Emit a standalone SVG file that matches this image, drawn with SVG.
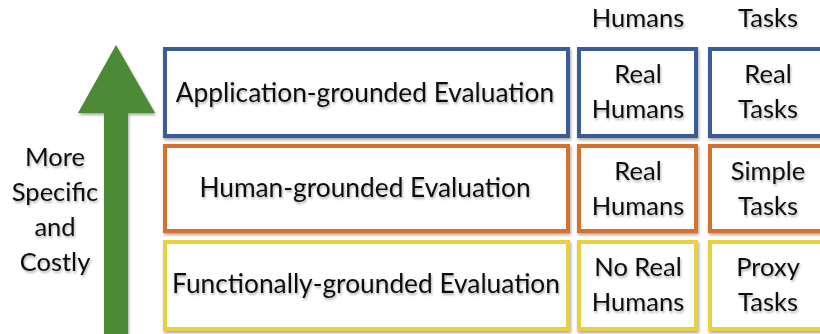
<svg xmlns="http://www.w3.org/2000/svg" width="820" height="334" viewBox="0 0 820 334">
<defs>
<filter id="sh" x="-10%" y="-10%" width="120%" height="130%">
<feDropShadow dx="1" dy="2" stdDeviation="1.5" flood-color="#000" flood-opacity="0.35"/>
</filter>
<filter id="tsh" x="-5%" y="-20%" width="110%" height="150%">
<feDropShadow dx="1" dy="2" stdDeviation="1.2" flood-color="#000" flood-opacity="0.3"/>
</filter>
</defs>
<style>
.box{fill:#fff;stroke-width:4;filter:url(#sh)}
.blue{stroke:#3b5b98}
.orange{stroke:#d4712b}
.yellow{stroke:#e9d03c}
text{font-family:Lato,"Noto Sans",sans-serif;font-size:25.5px;fill:#111;text-anchor:middle;filter:url(#tsh)}
.main{font-size:26.3px}
</style>
<rect width="820" height="334" fill="#fff"/>
<g id="arrow">
<polygon points="116,45 155,113 128,113 128,334 104,334 104,113 78,113" fill="#4e8a36" filter="url(#sh)"/>
</g>
<g id="axis-label">
<text x="55" y="166">More</text>
<text x="55" y="201">Specific</text>
<text x="55" y="236">and</text>
<text x="55" y="271">Costly</text>
</g>
<g id="headers">
<text x="638" y="27">Humans</text>
<text x="768" y="27">Tasks</text>
</g>
<g id="application">
<rect class="box blue" x="165" y="49" width="403" height="87"/>
<text class="main" x="365" y="102">Application-grounded Evaluation</text>
</g>
<g id="app-humans">
<rect class="box blue" x="579" y="49" width="117" height="87"/>
<text x="638" y="83">Real</text>
<text x="638" y="118">Humans</text>
</g>
<g id="app-tasks">
<rect class="box blue" x="710" y="49" width="130" height="87"/>
<text x="768" y="83">Real</text>
<text x="768" y="118">Tasks</text>
</g>
<g id="human">
<rect class="box orange" x="165" y="146" width="403" height="85"/>
<text class="main" x="365" y="197">Human-grounded Evaluation</text>
</g>
<g id="human-humans">
<rect class="box orange" x="579" y="146" width="117" height="85"/>
<text x="638" y="180">Real</text>
<text x="638" y="215">Humans</text>
</g>
<g id="human-tasks">
<rect class="box orange" x="710" y="146" width="130" height="85"/>
<text x="768" y="180">Simple</text>
<text x="768" y="215">Tasks</text>
</g>
<g id="functional">
<rect class="box yellow" x="165" y="242" width="403" height="87"/>
<text class="main" x="366" y="293">Functionally-grounded Evaluation</text>
</g>
<g id="func-humans">
<rect class="box yellow" x="579" y="242" width="117" height="87"/>
<text x="638" y="276">No Real</text>
<text x="638" y="311">Humans</text>
</g>
<g id="func-tasks">
<rect class="box yellow" x="710" y="242" width="130" height="87"/>
<text x="768" y="276">Proxy</text>
<text x="768" y="311">Tasks</text>
</g>
<g id="connectors"></g>
</svg>
